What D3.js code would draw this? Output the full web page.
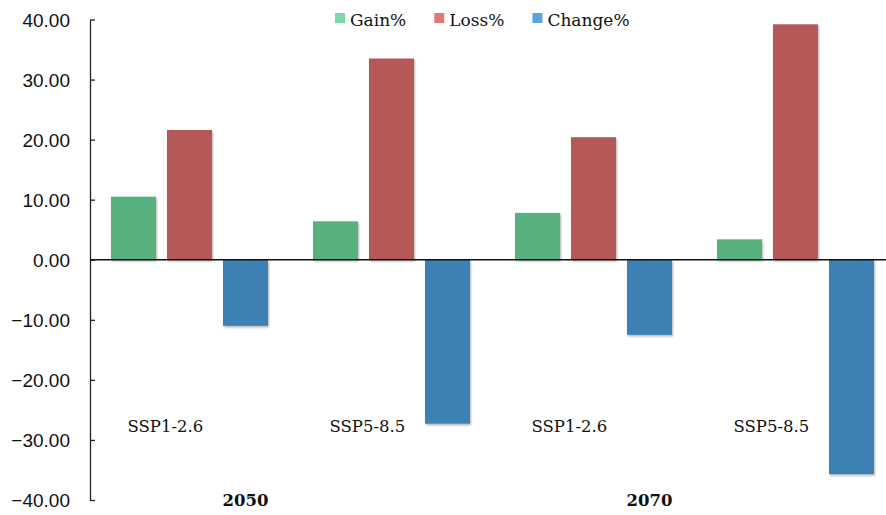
<!DOCTYPE html>
<html lang="en">
<head>
<meta charset="utf-8">
<title>Gain / Loss / Change</title>
<script src="https://cdn.jsdelivr.net/npm/d3@7"></script>
<style>
  body { margin: 0; background: #fff; }
  svg { display: block; font-family: "DejaVu Serif", Georgia, serif; }
  .axis text { font-size: 19px; fill: #111; }
  .axis path, .axis line { stroke: #222; stroke-width: 1.3; }
</style>
</head>
<body>
<div id="chart"></div>
<script>
// data
var scenarios = ["SSP1-2.6", "SSP5-8.5", "SSP1-2.6", "SSP5-8.5"];
var years = ["2050", "2070"];
var seriesNames = ["Gain%", "Loss%", "Change%"];
var gain = [10.5, 6.4, 7.8, 3.4];
var loss = [21.6, 33.5, 20.4, 39.2];
var change = [-11.0, -27.3, -12.5, -35.7];
var yTicks = [40, 30, 20, 10, 0, -10, -20, -30, -40];

var barColors = ["#57b17f", "#b55858", "#3e80b4"];
var legendColors = ["#7fd6a8", "#e07a7a", "#5aa6da"];

var width = 886, height = 515;
var svg = d3.select("#chart").append("svg")
  .attr("width", width)
  .attr("height", height);

// drop shadow for bars
var defs = svg.append("defs");
defs.append("filter").attr("id", "shadow")
  .attr("x", "-10%").attr("y", "-10%").attr("width", "130%").attr("height", "130%")
  .append("feDropShadow")
  .attr("dx", 1).attr("dy", 1.5).attr("stdDeviation", 1.2)
  .attr("flood-color", "#000").attr("flood-opacity", 0.3);

var axisX = 90;

var y = d3.scaleLinear().domain([-40, 40]).range([500, 19.5]);

// one band per scenario (index keys since names repeat)
var x0 = d3.scaleBand()
  .domain(d3.range(scenarios.length))
  .range([88.5, 896.5])
  .padding(0);

var x1 = d3.scaleBand()
  .domain(seriesNames)
  .range([22.5, 22.5 + 157])
  .paddingInner(11 / 56)
  .paddingOuter(0);

var rows = scenarios.map(function(s, i) {
  return { i: i, scenario: s, values: [gain[i], loss[i], change[i]] };
});

// bars
var groups = svg.selectAll(".grp")
  .data(rows).enter()
  .append("g")
  .attr("class", "grp")
  .attr("transform", function(d) { return "translate(" + x0(d.i) + ",0)"; });

groups.selectAll("rect")
  .data(function(d) {
    return d.values.map(function(v, k) { return { key: seriesNames[k], k: k, value: v }; });
  }).enter()
  .append("rect")
  .attr("x", function(d) { return x1(d.key); })
  .attr("width", x1.bandwidth())
  .attr("y", function(d) { return y(Math.max(0, d.value)); })
  .attr("height", function(d) { return Math.abs(y(d.value) - y(0)); })
  .attr("fill", function(d) { return barColors[d.k]; })
  .attr("filter", "url(#shadow)");

// zero line
svg.append("line")
  .attr("x1", axisX).attr("x2", width)
  .attr("y1", y(0)).attr("y2", y(0))
  .attr("stroke", "#111").attr("stroke-width", 1.5);

// y axis
var yAxis = d3.axisLeft(y)
  .tickValues(yTicks)
  .tickFormat(d3.format(".2f"))
  .tickSizeInner(-5)
  .tickSizeOuter(0)
  .tickPadding(20);

svg.append("g")
  .attr("class", "axis")
  .attr("transform", "translate(" + axisX + ",0)")
  .call(yAxis)
  .selectAll("text").attr("dy", "0.35em");

// scenario labels
svg.selectAll(".scen")
  .data(rows).enter()
  .append("text")
  .attr("class", "scen")
  .attr("x", function(d) { return x0(d.i) + 39; })
  .attr("y", 432)
  .attr("font-size", "16.5px")
  .attr("fill", "#111")
  .text(function(d) { return d.scenario; });

// year labels (centred a bit left of each pair)
svg.selectAll(".year")
  .data(years).enter()
  .append("text")
  .attr("class", "year")
  .attr("x", function(d, i) {
    return (x0(i * 2) + x0(i * 2 + 1) + x0.bandwidth()) / 2 - 45;
  })
  .attr("y", 506)
  .attr("text-anchor", "middle")
  .attr("font-size", "16.5px")
  .attr("font-weight", "bold")
  .attr("fill", "#111")
  .text(function(d) { return d; });

// legend
var lx = 335;
seriesNames.forEach(function(name, k) {
  svg.append("rect")
    .attr("x", lx).attr("y", 13)
    .attr("width", 10).attr("height", 10)
    .attr("fill", legendColors[k]);
  var t = svg.append("text")
    .attr("x", lx + 15).attr("y", 26)
    .attr("font-size", "17px")
    .attr("fill", "#111")
    .text(name);
  lx += 15 + t.node().getComputedTextLength() + 28;
});
</script>
</body>
</html>
